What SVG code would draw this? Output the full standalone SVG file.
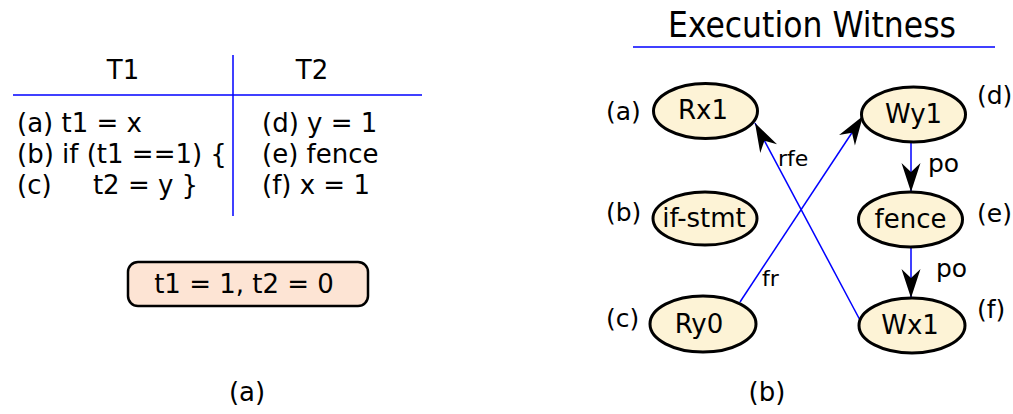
<svg xmlns="http://www.w3.org/2000/svg" width="1013" height="414" viewBox="0 0 1013 414">
<style>
text{font-family:"DejaVu Sans",sans-serif;fill:#000}
.code{font-size:26px}
.node{fill:#fdf3d6;stroke:#000;stroke-width:3}
.nl{font-size:26px;text-anchor:middle}
.lab{font-size:25px}
.el{font-size:22px}
.po{font-size:25px}
.blue{stroke:#0000ff;stroke-width:1.5;fill:none}
</style>
<defs>
<marker id="ah" markerUnits="userSpaceOnUse" markerWidth="31" markerHeight="21" viewBox="-30 -10.5 31 21" refX="0" refY="0" orient="auto">
<path d="M0,0 L-29,-9.5 L-20,0 L-29,9.5 Z" fill="#000"/>
</marker>
</defs>
<rect width="1013" height="414" fill="#fff"/>
<g id="code-table">
<line x1="13" y1="95" x2="422" y2="95" class="blue"/>
<line x1="233" y1="55" x2="233" y2="216" class="blue"/>
<text x="123" y="79" class="code" text-anchor="middle">T1</text>
<text x="312" y="79" class="code" text-anchor="middle">T2</text>
<text x="17" y="132" class="code">(a) t1 = x</text>
<text x="17" y="163" class="code">(b) if (t1 ==1) {</text>
<text x="17" y="194" class="code" xml:space="preserve">(c)     t2 = y }</text>
<text x="262" y="132" class="code">(d) y = 1</text>
<text x="262" y="163" class="code">(e) fence</text>
<text x="262" y="194" class="code">(f) x = 1</text>
</g>
<g id="result">
<rect x="128" y="262" width="240" height="44" rx="10" fill="#fde4d4" stroke="#000" stroke-width="2.5"/>
<text x="244" y="293" class="code" text-anchor="middle">t1 = 1, t2 = 0</text>
</g>
<text x="247" y="401" class="code" text-anchor="middle">(a)</text>
<text x="767" y="401" class="code" text-anchor="middle">(b)</text>
<g id="title">
<text x="812" y="37" font-size="35" text-anchor="middle" style="font-family:'DejaVu Sans Condensed','DejaVu Sans',sans-serif;font-stretch:condensed">Execution Witness</text>
<line x1="633" y1="47" x2="995" y2="47" class="blue"/>
</g>
<g id="connectors">
<line x1="861" y1="322" x2="755" y2="123" class="blue" marker-end="url(#ah)"/>
<line x1="740" y1="302" x2="863" y2="116" class="blue" marker-end="url(#ah)"/>
<line x1="911" y1="142" x2="911" y2="192" class="blue" marker-end="url(#ah)"/>
<line x1="911" y1="247" x2="911" y2="298" class="blue" marker-end="url(#ah)"/>
<text x="778" y="166" class="el">rfe</text>
<text x="762" y="286" class="el">fr</text>
<text x="928" y="172" class="po">po</text>
<text x="936" y="277" class="po">po</text>
</g>
<g id="n-a">
<ellipse cx="705.5" cy="111" rx="52" ry="27.5" class="node"/>
<text x="703" y="119" class="nl">Rx1</text>
<text x="606" y="120" class="lab">(a)</text>
</g>
<g id="n-b">
<ellipse cx="705" cy="218.5" rx="52" ry="26.5" class="node"/>
<text x="704" y="227" class="nl">if-stmt</text>
<text x="606" y="221" class="lab">(b)</text>
</g>
<g id="n-c">
<ellipse cx="703" cy="324" rx="53" ry="28" class="node"/>
<text x="699" y="333" class="nl">Ry0</text>
<text x="606" y="327" class="lab">(c)</text>
</g>
<g id="n-d">
<ellipse cx="913.5" cy="114.5" rx="52" ry="27.5" class="node"/>
<text x="913.5" y="123" class="nl">Wy1</text>
<text x="977" y="104" class="lab">(d)</text>
</g>
<g id="n-e">
<ellipse cx="910.5" cy="219.5" rx="52" ry="27.5" class="node"/>
<text x="910.5" y="228" class="nl">fence</text>
<text x="977" y="222" class="lab">(e)</text>
</g>
<g id="n-f">
<ellipse cx="912" cy="325.5" rx="53" ry="27.5" class="node"/>
<text x="910" y="334" class="nl">Wx1</text>
<text x="977" y="318" class="lab">(f)</text>
</g>
</svg>
